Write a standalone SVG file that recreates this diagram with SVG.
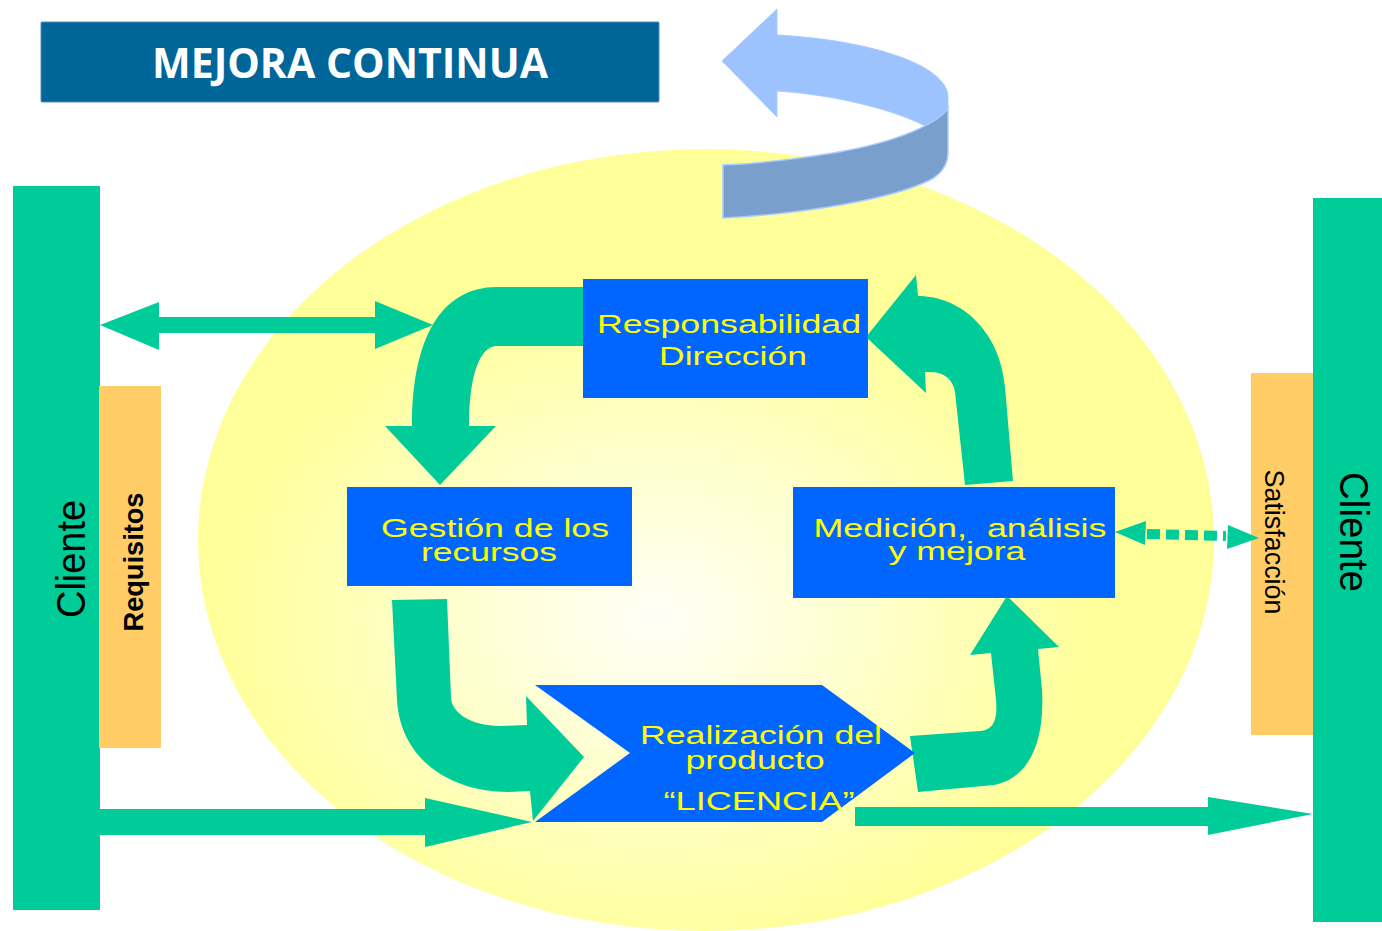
<svg xmlns="http://www.w3.org/2000/svg" width="1382" height="931" viewBox="0 0 1382 931">
<style>
.g{fill:#00CC99}
.box{fill:#0066FF}
.bt{font-family:"Liberation Sans",Arial,sans-serif;font-size:25px;fill:#FFFF00;text-anchor:middle}
.side{font-family:"Liberation Sans",Arial,sans-serif;fill:#000;text-anchor:middle}
</style>
<defs>
<radialGradient id="yg" cx="0.45" cy="0.6" r="0.55">
<stop offset="0" stop-color="#FFFFF8"/>
<stop offset="0.35" stop-color="#FFFFD0"/>
<stop offset="0.8" stop-color="#FFFF99"/>
<stop offset="1" stop-color="#FFFF99"/>
</radialGradient>
</defs>
<rect width="1382" height="931" fill="#FFFFFF"/>
<g id="background">
<ellipse cx="706" cy="540" rx="508" ry="391" fill="url(#yg)"/>
</g>
<g id="title">
<rect x="41" y="22" width="618" height="80" rx="1" fill="#006699" stroke="#4F8FB8" stroke-width="1"/>
<text x="350" y="78" text-anchor="middle" font-family="'Open Sans','Liberation Sans',sans-serif" font-weight="bold" font-size="41" fill="#FFFFFF" textLength="396" lengthAdjust="spacingAndGlyphs">MEJORA CONTINUA</text>
</g>
<g id="loop-arrow">
<path d="M722,61 L777,9 L777,35 C870,40 948,65 948,97 L948,108 C942,118 935,124 927,127 C900,112 840,95 777,91 L777,117 Z" fill="#9DC3FF" stroke="#A9CBFF" stroke-width="1"/>
<path d="M948,108 C940,122 900,142 833,153 C790,160 750,164 723,165 L723,218 C800,214 890,200 930,180 C945,172 948,160 948,153 Z" fill="#7B9FCD" stroke="#A9CBFF" stroke-width="1.5"/>
</g>
<g id="cliente-left">
<rect x="13" y="186" width="87" height="724" class="g"/>
<text class="side" transform="translate(85,559) rotate(-90)" font-size="40" textLength="118" lengthAdjust="spacingAndGlyphs">Cliente</text>
</g>
<g id="requisitos">
<rect x="99" y="386" width="62" height="362" fill="#FFCC66"/>
<text class="side" transform="translate(143,562) rotate(-90)" font-size="28" font-weight="bold" textLength="139" lengthAdjust="spacingAndGlyphs">Requisitos</text>
</g>
<g id="cliente-right">
<rect x="1313" y="198" width="69" height="724" class="g"/>
<text class="side" transform="translate(1340,532) rotate(90)" font-size="40" textLength="120" lengthAdjust="spacingAndGlyphs">Cliente</text>
</g>
<g id="satisfaccion">
<rect x="1251" y="373" width="62" height="362" fill="#FFCC66"/>
<text class="side" transform="translate(1265,542) rotate(90)" font-size="27" textLength="145" lengthAdjust="spacingAndGlyphs">Satisfacción</text>
</g>
<g id="connectors">
<path class="g" d="M583,287 L497,287 C440,287 412,340 412,426 L385,426 L440,485 L496,426 L469,426 C469,375 480,346 497,346 L583,346 Z"/>
<path class="g" d="M965,485 L955,392 C953,380 945,372 930,372 L925,372 L926,393 L866,337 L916,275 L918,296 C960,296 1000,330 1005,387 L1013,481 Z"/>
<path class="g" d="M392,600 L397,700 C400,755 445,792 509,792 L530,791 L533,821 L584,757 L526,696 L527,725 L500,726 C470,726 451,712 451,697 L447,599 Z"/>
<path class="g" d="M910,736 L918,792 L994,785 C1030,778 1045,740 1042,690 L1038,649 L1059,647 L1007,596 L970,655 L991,653 L996,700 C998,722 992,730 980,731 Z"/>
<path class="g" d="M100,325 L159,302 L159,317 L375,317 L375,301 L433,325 L375,349 L375,333 L159,333 L159,350 Z"/>
<path class="g" d="M100,809 L425,809 L425,798 L532,822 L425,847 L425,835 L100,835 Z"/>
<path class="g" d="M855,807 L1208,807 L1208,797 L1313,814 L1208,835 L1208,826 L855,826 Z"/>
<path class="g" d="M1115,532 L1146,521 L1145,545 Z"/>
<path class="g" d="M1259,538 L1228,525 L1227,549 Z"/>
<line x1="1147" y1="534" x2="1226" y2="536" stroke="#00CC99" stroke-width="10" stroke-dasharray="13,6"/>
</g>
<g id="responsabilidad">
<rect x="583" y="279" width="285" height="119" class="box"/>
<text class="bt" x="729" y="333" textLength="264" lengthAdjust="spacingAndGlyphs">Responsabilidad</text>
<text class="bt" x="733" y="365" textLength="148" lengthAdjust="spacingAndGlyphs">Dirección</text>
</g>
<g id="gestion">
<rect x="347" y="487" width="285" height="99" class="box"/>
<text class="bt" x="495" y="537" textLength="228" lengthAdjust="spacingAndGlyphs">Gestión de los</text>
<text class="bt" x="489" y="561" textLength="136" lengthAdjust="spacingAndGlyphs">recursos</text>
</g>
<g id="medicion">
<rect x="793" y="487" width="322" height="111" class="box"/>
<text class="bt" x="960" y="537" textLength="293" lengthAdjust="spacingAndGlyphs" xml:space="preserve">Medición,  análisis</text>
<text class="bt" x="957" y="560" textLength="137" lengthAdjust="spacingAndGlyphs">y mejora</text>
</g>
<g id="realizacion">
<path class="box" d="M535,685 L822,685 L915,753 L822,822 L535,822 L630,753 Z"/>
<text class="bt" x="761" y="744" textLength="242" lengthAdjust="spacingAndGlyphs">Realización del</text>
<text class="bt" x="755" y="769" textLength="139" lengthAdjust="spacingAndGlyphs">producto</text>
<text class="bt" x="759" y="810" textLength="191" lengthAdjust="spacingAndGlyphs">“LICENCIA”</text>
</g>
</svg>
